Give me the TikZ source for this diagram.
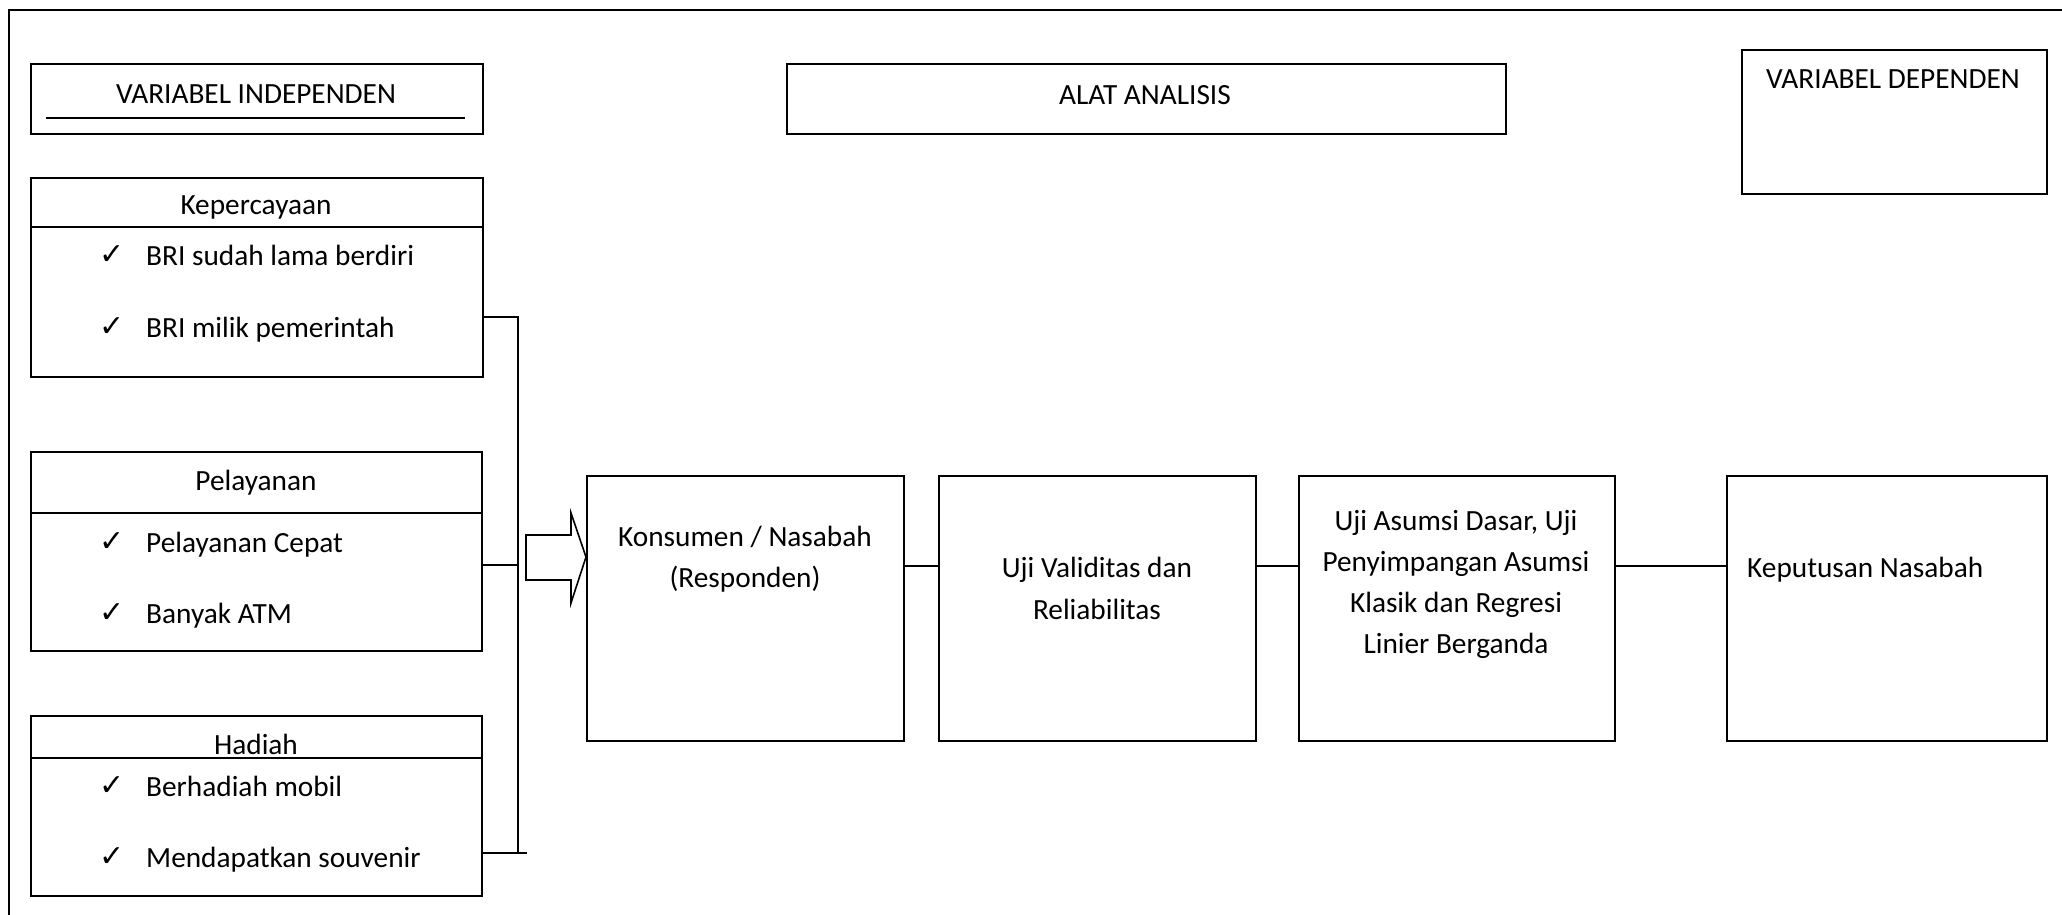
\documentclass[tikz,border=0pt]{standalone}
\usepackage{fontspec}
\setmainfont{Carlito}
\newfontfamily\chkfont{DejaVu Sans}
\newcommand\chk{{\chkfont\fontsize{30}{30}\selectfont ✓}}
\newcommand\itm[1]{\makebox[45pt][l]{\hspace{-2pt}\raisebox{1pt}{\chk}}#1}
\newcommand\lines[1]{\begin{tabular}[t]{@{}c@{}}#1\end{tabular}}
\begin{document}
\begin{tikzpicture}[x=1pt,y=-1pt,
  box/.style={draw, line width=2pt, inner sep=0pt, anchor=north west},
  txt/.style={inner sep=0pt, font=\fontsize{29.3}{41}\selectfont},
  ln/.style={line width=2pt},
  txtc/.style={txt, anchor=base},
  txtl/.style={txt, anchor=base west}]
\useasboundingbox (0,0) rectangle (2062,914);
\clip (0,0) rectangle (2062,914);
\draw[line width=2.5pt] (9,10) rectangle (2300,1100);
% header boxes
\node[box, minimum width=452pt, minimum height=70pt] (vi) at (30,63) {};
\node[txtc] (vit) at (256,103) {VARIABEL INDEPENDEN};
\draw[ln] (46,118) -- (465,118);
\node[box, minimum width=719pt, minimum height=70pt] (alat) at (786,63) {};
\node[txtc] (alatt) at (1145,104) {ALAT ANALISIS};
\node[box, minimum width=305pt, minimum height=144pt] (vd) at (1741,49) {};
\node[txtc] (vdt) at (1893,88) {VARIABEL DEPENDEN};
% independent variable boxes
\node[box, minimum width=452pt, minimum height=199pt] (kep) at (30,177) {};
\coordinate (d1) at (0,227);
\draw[ln] (kep.west |- d1) -- (kep.east |- d1);
\node[txtc] (kept) at (256,214) {Kepercayaan};
\node[txtl] (k1) at (101,265) {\itm{BRI sudah lama berdiri}};
\node[txtl] (k2) at (101,337) {\itm{BRI milik pemerintah}};
\node[box, minimum width=451pt, minimum height=199pt] (pel) at (30,451) {};
\coordinate (d2) at (0,513);
\draw[ln] (pel.west |- d2) -- (pel.east |- d2);
\node[txtc] (pelt) at (256,490) {Pelayanan};
\node[txtl] (p1) at (101,552) {\itm{Pelayanan Cepat}};
\node[txtl] (p2) at (101,623) {\itm{Banyak ATM}};
\node[box, minimum width=451pt, minimum height=180pt] (had) at (30,715) {};
\coordinate (d3) at (0,758);
\draw[ln] (had.west |- d3) -- (had.east |- d3);
\node[txtc] (hadt) at (256,754) {Hadiah};
\node[txtl] (h1) at (101,796) {\itm{Berhadiah mobil}};
\node[txtl] (h2) at (101,867) {\itm{Mendapatkan souvenir}};
% process boxes
\node[box, minimum width=317pt, minimum height=265pt] (kon) at (586,475) {};
\node[txtc] (kont) at (745,546) {\lines{Konsumen / Nasabah\\(Responden)}};
\node[box, minimum width=317pt, minimum height=265pt] (val) at (938,475) {};
\node[txtc] (valt) at (1097,577) {\lines{Uji Validitas dan\\[1pt]Reliabilitas}};
\node[box, minimum width=316pt, minimum height=265pt] (asu) at (1298,475) {};
\node[txtc] (asut) at (1456,530) {\lines{Uji Asumsi Dasar, Uji\\Penyimpangan Asumsi\\Klasik dan Regresi\\Linier Berganda}};
\node[box, minimum width=320pt, minimum height=265pt] (kpt) at (1726,475) {};
\node[txtl] (kptt) at (1747,577) {Keputusan Nasabah};
% bus connectors
\coordinate (b1) at (518,317);
\coordinate (b2) at (518,565);
\coordinate (b3) at (518,853);
\coordinate (b3e) at (527,853);
\draw[ln] (kep.east |- b1) -- (b1) -- (b3);
\draw[ln] (pel.east |- b2) -- (b2);
\draw[ln] (had.east |- b3) -- (b3e);
% block arrow into kon
\coordinate (tip) at (586,557);
\draw[line width=1.6pt, line join=miter] (526,535) -- (571,535) -- (571,513) -- (tip) -- (571,603) -- (571,580) -- (526,580) -- cycle;
% chain connectors
\coordinate (r) at (0,566);
\draw[ln] (kon.east |- r) -- (val.west |- r);
\draw[ln] (val.east |- r) -- (asu.west |- r);
\draw[ln] (asu.east |- r) -- (kpt.west |- r);
\end{tikzpicture}
\end{document}
